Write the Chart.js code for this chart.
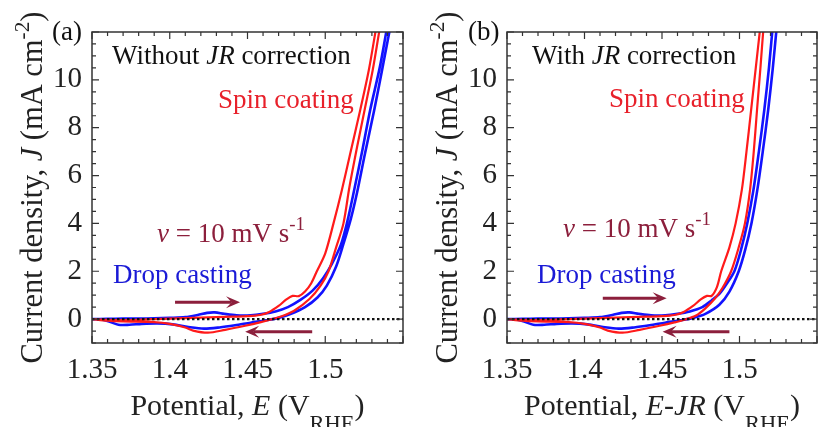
<!DOCTYPE html>
<html>
<head>
<meta charset="utf-8">
<script src="https://cdn.jsdelivr.net/npm/chart.js@4.4.1/dist/chart.umd.min.js"></script>
<style>
  body { margin: 0; background: #fff; }
  #wrap { position: relative; width: 818px; height: 427px; overflow: hidden; }
  canvas { position: absolute; top: 0; }
</style>
</head>
<body>
<div id="wrap">
  <canvas id="chartA" width="410" height="427" style="left:0;width:410px;height:427px"></canvas>
  <canvas id="chartB" width="408" height="427" style="left:410px;width:408px;height:427px"></canvas>
</div>
<script>
const serif = "'Liberation Serif', 'Times New Roman', serif";

// axes
const xMin = 1.35, xMax = 1.55;
const yMin = -1, yMax = 12;
const xTicks = [1.35, 1.4, 1.45, 1.5];
const xTickLabels = ['1.35', '1.4', '1.45', '1.5'];
const yTicks = [0, 2, 4, 6, 8, 10];
const yTickLabels = ['0', '2', '4', '6', '8', '10'];

// dotted zero line
const zeroE = [1.35, 1.55];
const zeroJ = [0, 0];

// (a) without JR correction - full CV loop, forward then back
const spinA_E = [1.350, 1.360, 1.370, 1.380, 1.390, 1.400, 1.410, 1.420, 1.430, 1.440, 1.450, 1.458, 1.464, 1.470, 1.475, 1.479, 1.483, 1.487, 1.491, 1.4946, 1.500, 1.5053, 1.5107, 1.516, 1.5225, 1.528, 1.5328, 1.534,
                 1.5365, 1.5352, 1.5305, 1.5255, 1.5205, 1.5155, 1.5117, 1.507, 1.5021, 1.497, 1.490, 1.480, 1.472, 1.465, 1.458, 1.4485, 1.4356, 1.4246, 1.415, 1.410, 1.400, 1.390, 1.370, 1.360, 1.350];
const spinA_J = [0.00, -0.03, -0.04, -0.03, 0.00, 0.02, 0.04, 0.06, 0.08, 0.10, 0.12, 0.17, 0.30, 0.55, 0.82, 0.97, 0.96, 1.15, 1.50, 2.00, 2.75, 4.00, 5.40, 6.90, 8.74, 10.40, 12.20, 12.60,
                 12.60, 12.20, 10.40, 8.80, 7.20, 5.50, 4.00, 3.00, 2.00, 1.40, 0.85, 0.35, 0.12, -0.02, -0.14, -0.28, -0.45, -0.57, -0.48, -0.35, -0.20, -0.13, -0.10, -0.07, 0.00];
const dropA_E = [1.350, 1.360, 1.370, 1.380, 1.390, 1.400, 1.410, 1.418, 1.424, 1.429, 1.435, 1.443, 1.452, 1.460, 1.468, 1.476, 1.484, 1.492, 1.4985, 1.5042, 1.510, 1.5139, 1.5183, 1.524, 1.5289, 1.535, 1.5398, 1.541,
                 1.543, 1.5418, 1.5368, 1.5315, 1.5255, 1.5205, 1.5165, 1.5115, 1.507, 1.501, 1.495, 1.487, 1.478, 1.470, 1.462, 1.452, 1.442, 1.432, 1.422, 1.412, 1.402, 1.392, 1.382, 1.374, 1.367, 1.361, 1.356, 1.350];
const dropA_J = [0.00, 0.01, 0.02, 0.02, 0.03, 0.05, 0.08, 0.17, 0.26, 0.28, 0.22, 0.16, 0.16, 0.22, 0.32, 0.50, 0.80, 1.20, 1.70, 2.30, 3.10, 4.00, 5.30, 7.10, 8.74, 10.50, 12.20, 12.60,
                 12.60, 12.20, 10.50, 8.74, 6.90, 5.30, 4.20, 3.10, 2.20, 1.40, 0.90, 0.50, 0.22, 0.05, -0.05, -0.15, -0.26, -0.35, -0.40, -0.33, -0.22, -0.18, -0.20, -0.24, -0.24, -0.10, -0.02, 0.00];

// (b) with JR correction
const spinB_E = [1.350, 1.360, 1.370, 1.380, 1.390, 1.400, 1.410, 1.420, 1.430, 1.440, 1.450, 1.458, 1.464, 1.470, 1.475, 1.479, 1.482, 1.4855, 1.4882, 1.4935, 1.4975, 1.5015, 1.5045, 1.5075, 1.5105, 1.5134, 1.5142,
                 1.5162, 1.5155, 1.5135, 1.5113, 1.5092, 1.5068, 1.5035, 1.4995, 1.4946, 1.489, 1.484, 1.478, 1.472, 1.465, 1.458, 1.4485, 1.4356, 1.4246, 1.415, 1.410, 1.400, 1.390, 1.370, 1.360, 1.350];
const spinB_J = [0.00, -0.03, -0.04, -0.03, 0.00, 0.02, 0.04, 0.06, 0.08, 0.10, 0.12, 0.17, 0.30, 0.55, 0.82, 0.97, 0.97, 1.35, 2.00, 3.00, 4.00, 5.40, 7.00, 8.74, 10.50, 12.20, 12.60,
                 12.60, 12.20, 10.50, 8.74, 7.00, 5.40, 4.00, 3.00, 2.00, 1.30, 0.85, 0.45, 0.15, -0.02, -0.14, -0.28, -0.45, -0.57, -0.48, -0.35, -0.20, -0.13, -0.10, -0.07, 0.00];
const dropB_E = [1.350, 1.360, 1.370, 1.380, 1.390, 1.400, 1.410, 1.418, 1.424, 1.429, 1.435, 1.443, 1.452, 1.460, 1.468, 1.476, 1.482, 1.487, 1.492, 1.4967, 1.501, 1.505, 1.509, 1.5125, 1.516, 1.519, 1.5214, 1.5222,
                 1.5248, 1.524, 1.5215, 1.5185, 1.515, 1.5115, 1.5077, 1.5037, 1.4995, 1.4935, 1.487, 1.478, 1.470, 1.462, 1.452, 1.442, 1.432, 1.422, 1.412, 1.402, 1.392, 1.382, 1.374, 1.367, 1.361, 1.356, 1.350];
const dropB_J = [0.00, 0.01, 0.02, 0.02, 0.03, 0.05, 0.08, 0.17, 0.26, 0.28, 0.22, 0.16, 0.16, 0.22, 0.32, 0.50, 0.78, 1.05, 1.50, 2.00, 2.90, 4.00, 5.40, 7.00, 8.74, 10.50, 12.20, 12.60,
                 12.60, 12.20, 10.50, 8.74, 7.00, 5.40, 4.00, 2.90, 2.00, 1.15, 0.60, 0.22, 0.05, -0.05, -0.15, -0.26, -0.35, -0.40, -0.33, -0.22, -0.18, -0.20, -0.24, -0.24, -0.10, -0.02, 0.00];

const red = '#ff1a1a';
const blue = '#1212ff';
const wine = '#8c1f3c';

function pts(xs, ys) {
    return xs.map((x, i) => ({ x: x, y: ys[i] }));
}

function rich(ctx, segs, x, y, size, color) {
    let cx = x;
    segs.forEach(s => {
        ctx.font = (s.it ? 'italic ' : '') + (size * (s.sc || 1)) + 'px ' + serif;
        ctx.fillStyle = color;
        ctx.fillText(s.t, cx, y + (s.dy || 0));
        cx += ctx.measureText(s.t).width;
    });
    return cx - x;
}

function richWidth(ctx, segs, size) {
    let w = 0;
    segs.forEach(s => {
        ctx.font = (s.it ? 'italic ' : '') + (size * (s.sc || 1)) + 'px ' + serif;
        w += ctx.measureText(s.t).width;
    });
    return w;
}

function arrow(ctx, x1, y1, x2, y2) {
    const ang = Math.atan2(y2 - y1, x2 - x1);
    const hl = 14, hw = 6;
    const c = Math.cos(ang), s = Math.sin(ang);
    ctx.beginPath();
    ctx.moveTo(x1, y1);
    ctx.lineTo(x2 - hl * 0.6 * c, y2 - hl * 0.6 * s);
    ctx.stroke();
    ctx.beginPath();
    ctx.moveTo(x2, y2);
    ctx.lineTo(x2 - hl * c - hw * s, y2 - hl * s + hw * c);
    ctx.lineTo(x2 - hl * 0.6 * c, y2 - hl * 0.6 * s);
    ctx.lineTo(x2 - hl * c + hw * s, y2 - hl * s - hw * c);
    ctx.closePath();
    ctx.fill();
}

function decor(p) {
    return {
        id: 'decor' + p.tag,
        afterDatasetsDraw(chart) {
            const ctx = chart.ctx;
            const a = chart.chartArea;
            const xs = chart.scales.x, ys = chart.scales.y;
            ctx.save();

            // frame + inward ticks on all sides
            ctx.strokeStyle = '#333';
            ctx.lineWidth = 1.5;
            ctx.strokeRect(a.left, a.top, a.right - a.left, a.bottom - a.top);
            ctx.lineWidth = 1.2;
            ctx.beginPath();
            for (let k = 0; k <= 20; k++) {
                const px = xs.getPixelForValue(xMin + k * 0.01);
                const len = k % 5 === 0 ? 7 : 4;
                ctx.moveTo(px, a.bottom); ctx.lineTo(px, a.bottom - len);
                ctx.moveTo(px, a.top); ctx.lineTo(px, a.top + len);
            }
            for (let k = 0; k <= 26; k++) {
                const v = yMin + k * 0.5;
                const py = ys.getPixelForValue(v);
                const len = v % 2 === 0 ? 7 : 4;
                ctx.moveTo(a.left, py); ctx.lineTo(a.left + len, py);
                ctx.moveTo(a.right, py); ctx.lineTo(a.right - len, py);
            }
            ctx.stroke();

            // scan direction arrows
            ctx.strokeStyle = wine;
            ctx.fillStyle = wine;
            ctx.lineWidth = 3;
            p.arrows.forEach(ar => {
                arrow(ctx, xs.getPixelForValue(ar[0]), ys.getPixelForValue(ar[1]),
                      xs.getPixelForValue(ar[2]), ys.getPixelForValue(ar[3]));
            });

            // labels
            ctx.textBaseline = 'alphabetic';
            ctx.textAlign = 'left';
            rich(ctx, [{ t: p.letter }], p.letterPos[0], p.letterPos[1], 27, '#111');
            rich(ctx, p.title, p.titlePos[0], p.titlePos[1], 27, '#111');
            rich(ctx, [{ t: 'Spin coating' }], p.spinPos[0], p.spinPos[1], 27, '#e8202a');
            rich(ctx, [{ t: 'ν', it: 1 }, { t: ' = 10 mV s' }, { t: '-1', sc: 0.7, dy: -12 }], p.ratePos[0], p.ratePos[1], 27, wine);
            rich(ctx, [{ t: 'Drop casting' }], p.dropPos[0], p.dropPos[1], 27, '#1a1ad6');

            // axis titles
            const xw = richWidth(ctx, p.xTitle, 30);
            rich(ctx, p.xTitle, (a.left + a.right) / 2 - xw / 2, 415, 30, '#222');
            const yTitle = [{ t: 'Current density, ' }, { t: 'J', it: 1 }, { t: ' (mA cm' }, { t: '-2', sc: 0.7, dy: -13 }, { t: ')' }];
            const yw = richWidth(ctx, yTitle, 30.5);
            ctx.translate(p.yTitleX, (a.top + a.bottom) / 2 + yw / 2);
            ctx.rotate(-Math.PI / 2);
            rich(ctx, yTitle, 0, 0, 30.5, '#222');
            ctx.restore();
        }
    };
}

function makeChart(id, p) {
    const ctx = document.getElementById(id).getContext('2d');
    return new Chart(ctx, {
        type: 'scatter',
        data: {
            datasets: [
                { data: pts(zeroE, zeroJ), borderColor: '#111', borderWidth: 2.2, borderDash: [2.5, 2.5], tension: 0 },
                { data: pts(p.spinE, p.spinJ), borderColor: red, borderWidth: 2.2, tension: 0.3 },
                { data: pts(p.dropE, p.dropJ), borderColor: blue, borderWidth: 2.6, tension: 0.3 }
            ]
        },
        options: {
            responsive: false,
            animation: false,
            showLine: true,
            elements: { point: { radius: 0, hoverRadius: 0 } },
            layout: { padding: { top: 32, right: p.padRight, left: 0, bottom: 0 } },
            plugins: { legend: { display: false }, tooltip: { enabled: false } },
            scales: {
                x: {
                    type: 'linear', min: xMin, max: xMax,
                    grid: { display: false, drawTicks: false },
                    border: { display: false },
                    afterBuildTicks: s => { s.ticks = xTicks.map(v => ({ value: v })); },
                    afterFit: s => { s.height = 84; },
                    ticks: {
                        autoSkip: false, maxRotation: 0, padding: 10, color: '#222',
                        font: { family: serif, size: 29 },
                        callback: (v, i) => xTickLabels[i]
                    }
                },
                y: {
                    type: 'linear', min: yMin, max: yMax,
                    grid: { display: false, drawTicks: false },
                    border: { display: false },
                    afterBuildTicks: s => { s.ticks = yTicks.map(v => ({ value: v })); },
                    afterFit: s => { s.width = p.yWidth; },
                    ticks: {
                        padding: 10, color: '#222',
                        font: { family: serif, size: 29 },
                        callback: (v, i) => yTickLabels[i]
                    }
                }
            }
        },
        plugins: [decor(p)]
    });
}

makeChart('chartA', {
    tag: 'A', spinE: spinA_E, spinJ: spinA_J, dropE: dropA_E, dropJ: dropA_J,
    yWidth: 92, padRight: 7,
    arrows: [[1.4034, 0.70, 1.4452, 0.70], [1.4916, -0.53, 1.4485, -0.53]],
    letter: '(a)', letterPos: [52, 40],
    title: [{ t: 'Without ' }, { t: 'JR', it: 1 }, { t: ' correction' }], titlePos: [112, 64],
    spinPos: [218, 108], ratePos: [157, 242], dropPos: [113, 283],
    xTitle: [{ t: 'Potential, ' }, { t: 'E', it: 1 }, { t: ' (V' }, { t: 'RHE', sc: 0.75, dy: 16 }, { t: ')' }],
    yTitleX: 42
});

makeChart('chartB', {
    tag: 'B', spinE: spinB_E, spinJ: spinB_J, dropE: dropB_E, dropJ: dropB_J,
    yWidth: 97, padRight: 1,
    arrows: [[1.4118, 0.87, 1.4530, 0.87], [1.4935, -0.53, 1.4504, -0.53]],
    letter: '(b)', letterPos: [58, 40],
    title: [{ t: 'With ' }, { t: 'JR', it: 1 }, { t: ' correction' }], titlePos: [122, 64],
    spinPos: [199, 107], ratePos: [153, 237], dropPos: [127, 283],
    xTitle: [{ t: 'Potential, ' }, { t: 'E-JR', it: 1 }, { t: ' (V' }, { t: 'RHE', sc: 0.75, dy: 16 }, { t: ')' }],
    yTitleX: 47
});
</script>
</body>
</html>
